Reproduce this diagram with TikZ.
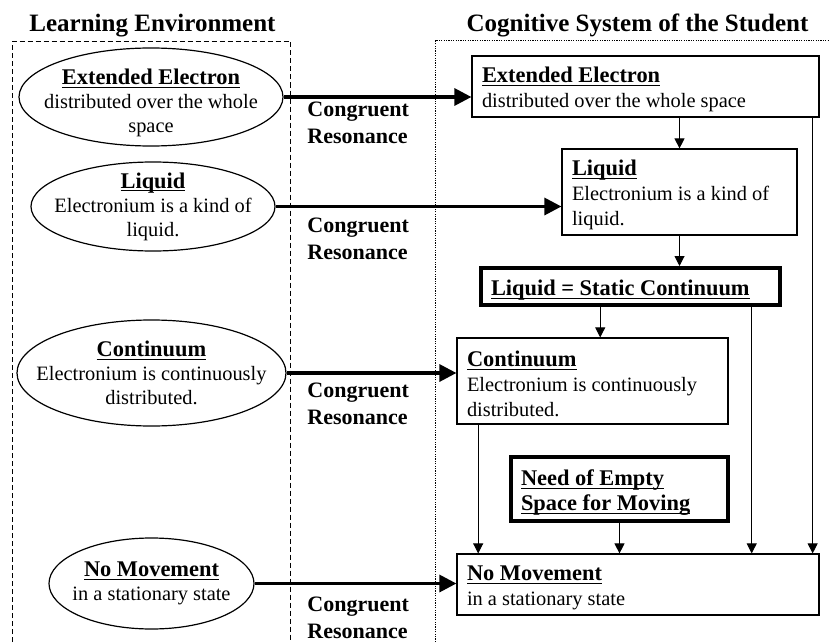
\documentclass[tikz,border=0pt]{standalone}
\usepackage{fontspec}
\setmainfont{Liberation Serif}
\usepackage{tikz}
\usetikzlibrary{arrows.meta,shapes.geometric,calc}
\newcommand{\kopf}[1]{{\bfseries\fontsize{11.2}{12.5}\selectfont\underline{\raisebox{0pt}[\height][0pt]{#1}}}}

\begin{document}
\begin{tikzpicture}[x=0.5pt, y=-0.5pt,
      rahmen/.style={line width=0.5pt},
      idee/.style={draw, ellipse, line width=0.6pt, align=center, inner sep=-20pt,
        font=\fontsize{10.2}{12}\selectfont},
      kasten/.style={draw, line width=0.6pt, align=flush left, inner xsep=5pt, inner ysep=0pt,
        text height=11pt, font=\fontsize{10.2}{12.5}\selectfont},
      schluss/.style={kasten, line width=2pt},
      dick/.style={-{Triangle[length=8.5pt, width=8.5pt]}, line width=1.6pt},
      duenn/.style={-{Triangle[length=5pt, width=5pt]}, line width=0.5pt},
      resonanz/.style={font=\bfseries\fontsize{11}{13.5}\selectfont, align=left,
        inner sep=0pt, anchor=north west},
      titel/.style={font=\bfseries\fontsize{12.5}{15}\selectfont, inner sep=0pt, anchor=base}]
    \useasboundingbox (0,0) rectangle (829,642);
    \node[titel] (tl) at (152.5,32) {Learning Environment};
    \node[titel] (tk) at (637.5,32) {Cognitive System of the Student};
    \draw[rahmen, dash pattern=on 2.5pt off 1.5pt] (12,642) |- (290.5,41.5) -- (290.5,642);
    \draw[rahmen, dash pattern=on 0.6pt off 0.6pt] (435,642) |- (829,41);
    % Lernumgebung
    \node[idee, minimum width=132pt, minimum height=49pt] (le1) at (151,97)
      {\rule{0pt}{14pt}\kopf{Extended Electron}\\distributed over the whole\\space};
    \node[idee, minimum width=122pt, minimum height=44.5pt] (le2) at (153,206.5)
      {\kopf{Liquid}\\Electronium is a kind of\\liquid.};
    \node[idee, minimum width=134.5pt, minimum height=53pt] (le3) at (151.5,373)
      {\kopf{Continuum}\\Electronium is continuously\\distributed.};
    \node[idee, minimum width=102.5pt, minimum height=45.5pt] (le4) at (151.5,583.5)
      {\kopf{No Movement}\\in a stationary state};
    % kognitives System
    \node[kasten, minimum width=173.5pt, minimum height=30.5pt, text width=163.5pt] (ks1) at (645.5,86.5)
      {\kopf{Extended Electron}\\distributed over the whole space};
    \node[kasten, minimum width=117.5pt, minimum height=43pt, text width=107.5pt] (ks2) at (679.5,192)
      {\kopf{Liquid}\\Electronium is a kind of\\liquid.};
    \node[schluss, minimum width=149.5pt, minimum height=18.5pt, text width=139.5pt] (ks3) at (630.5,286.5)
      {\kopf{Liquid = Static Continuum}};
    \node[kasten, minimum width=135.5pt, minimum height=43pt, text width=125.5pt] (ks4) at (592.5,381)
      {\kopf{Continuum}\\Electronium is continuously\\distributed.};
    \node[schluss, minimum width=108.5pt, minimum height=32pt, text width=98.5pt] (ks5) at (619.5,489)
      {\kopf{Need of Empty}\\\kopf{Space for Moving}};
    \node[kasten, minimum width=181pt, minimum height=30.5pt, text width=171pt] (ks6) at (638,584.5)
      {\kopf{No Movement}\\in a stationary state};
    % Resonanz
    \draw[dick] (le1.east) -- (le1.east -| ks1.west);
    \draw[dick] (le2.east) -- (le2.east -| ks2.west);
    \draw[dick] (le3.east) -- (le3.east -| ks4.west);
    \draw[dick] (le4.east) -- (le4.east -| ks6.west);
    \node[resonanz] (kr1) at (307,102) {Congruent\\Resonance};
    \node[resonanz] (kr2) at (307,218) {Congruent\\Resonance};
    \node[resonanz] (kr3) at (307,383) {Congruent\\Resonance};
    \node[resonanz] (kr4) at (307,597) {Congruent\\Resonance};
    % Folgerungen
    \draw[duenn] (ks1.south -| ks2.north) -- (ks2.north);
    \draw[duenn] (ks2.south) -- (ks2.south |- ks3.north);
    \draw[duenn] ($(ks3.south west)!.4!(ks3.south east)$) coordinate (a1) -- (a1 |- ks4.north);
    \draw[duenn] ($(ks3.south west)!.9!(ks3.south east)$) coordinate (a2) -- (a2 |- ks6.north);
    \draw[duenn] ($(ks1.south west)!.98!(ks1.south east)$) coordinate (a3) -- (a3 |- ks6.north);
    \draw[duenn] ($(ks4.south west)!.08!(ks4.south east)$) coordinate (a4) -- (a4 |- ks6.north);
    \draw[duenn] (ks5.south) -- (ks5.south |- ks6.north);
  \end{tikzpicture}
\end{document}
